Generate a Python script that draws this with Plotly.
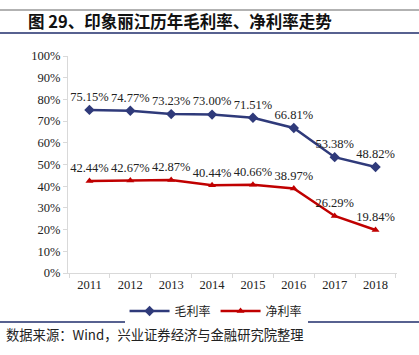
import plotly.graph_objects as go

years = ["2011", "2012", "2013", "2014", "2015", "2016", "2017", "2018"]
gross_margin = [75.15, 74.77, 73.23, 73.00, 71.51, 66.81, 53.38, 48.82]
net_margin = [42.44, 42.67, 42.87, 40.44, 40.66, 38.97, 26.29, 19.84]
y_ticks = [0, 10, 20, 30, 40, 50, 60, 70, 80, 90, 100]

NAVY = "#2F3A7A"
RED = "#C00000"
SERIF = "Liberation Serif, Times New Roman, serif"
CJK = "Noto Sans CJK SC, sans-serif"

fig = go.Figure()
fig.add_trace(go.Scatter(
    x=years, y=gross_margin, name="毛利率", mode="lines+markers+text",
    line=dict(color=NAVY, width=2.5),
    marker=dict(symbol="diamond", size=8, color=NAVY),
    text=[f"{v:.2f}%" for v in gross_margin], textposition="top center",
    textfont=dict(family=SERIF, size=12.5, color="#222"),
))
fig.add_trace(go.Scatter(
    x=years, y=net_margin, name="净利率", mode="lines+markers+text",
    line=dict(color=RED, width=2.5),
    marker=dict(symbol="triangle-up", size=7, color=RED),
    text=[f"{v:.2f}%" for v in net_margin], textposition="top center",
    textfont=dict(family=SERIF, size=12.5, color="#222"),
))

fig.update_layout(
    width=419, height=355,
    margin=dict(l=68, r=22, t=56, b=82),
    paper_bgcolor="white", plot_bgcolor="white",
    showlegend=True,
    legend=dict(orientation="h", x=0.45, xanchor="center", y=-(311-273)/217, yanchor="middle",
                font=dict(family=CJK, size=12, color="#222"),
                itemwidth=40, tracegroupgap=0),
    xaxis=dict(type="category", showgrid=False, showline=True, linecolor="#D9D9D9",
               linewidth=1, ticks="outside", tickson="boundaries", ticklen=4,
               tickcolor="#D9D9D9", tickfont=dict(family=SERIF, size=12.5, color="#222")),
    yaxis=dict(range=[0, 100], tickvals=y_ticks, ticktext=[f"{v}%" for v in y_ticks],
               showgrid=False, showline=True, linecolor="#D9D9D9", linewidth=1,
               ticks="outside", ticklen=4, tickcolor="#D9D9D9", zeroline=False,
               tickfont=dict(family=SERIF, size=12.5, color="#222")),
    shapes=[
        dict(type="line", xref="paper", yref="paper", x0=-68/329, x1=1+22/329,
             y0=1+(56-10)/217, y1=1+(56-10)/217, line=dict(color="#999", width=1.5)),
        dict(type="line", xref="paper", yref="paper", x0=-68/329, x1=1+22/329,
             y0=1+(56-33)/217, y1=1+(56-33)/217, line=dict(color="#1F2D6B", width=1.5)),
        dict(type="line", xref="paper", yref="paper", x0=-68/329, x1=1+22/329,
             y0=-(322-273)/217, y1=-(322-273)/217, line=dict(color="#1F2D6B", width=1.5)),
    ],
    annotations=[
        dict(text="<b>图 29、印象丽江历年毛利率、净利率走势</b>", xref="paper", yref="paper",
             x=-(68-26)/329, y=1+(56-21)/217, xanchor="left", yanchor="middle",
             showarrow=False, font=dict(family=CJK, size=16.5, color="#111")),
        dict(text="数据来源：Wind，兴业证券经济与金融研究院整理", xref="paper", yref="paper",
             x=-(68-4)/329, y=-(334-273)/217, xanchor="left", yanchor="middle",
             showarrow=False, font=dict(family=CJK, size=13.3, color="#222")),
    ],
)

fig.write_html("out.html", config={"displayModeBar": False},
               post_script="document.body.style.margin='0';")
